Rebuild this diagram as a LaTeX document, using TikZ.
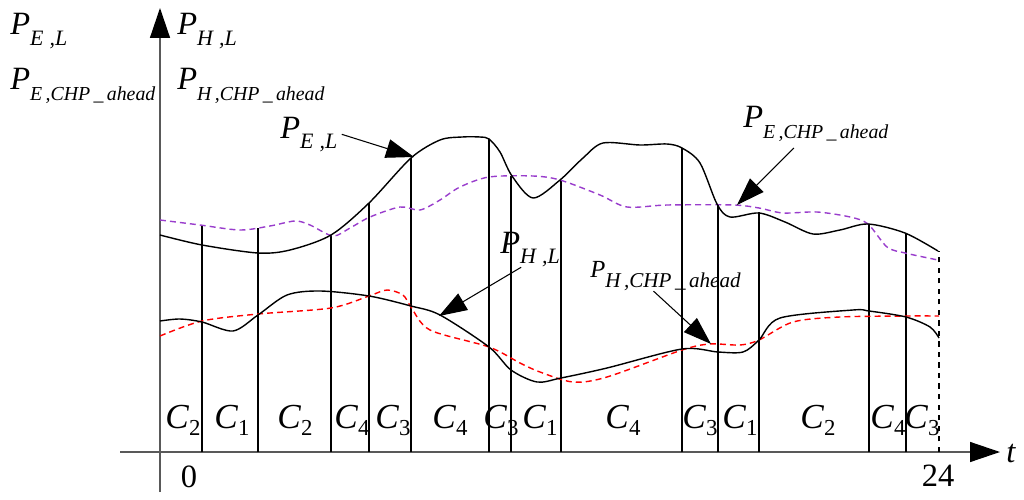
\documentclass[tikz,border=0pt]{standalone}
\usepackage{fontspec}
\setmainfont{Liberation Serif}
\usetikzlibrary{arrows.meta}
\definecolor{chpviolet}{RGB}{153,61,204}
\newcommand\pvar[2][12.5]{\textit{P}\raisebox{-6pt}{\fontsize{#1}{14}\selectfont\textit{#2}}}
\newcommand\cvar[1]{\textit{C}\raisebox{-4pt}{\fontsize{13}{14}\selectfont #1}}

\begin{document}
\begin{tikzpicture}[x=0.02cm,y=-0.02cm,
  axis/.style={line width=0.8pt,black!65,-{Triangle[length=0.6cm,width=0.4cm,color=black]}},
  bound/.style={line width=0.6pt},
  pointer/.style={line width=0.6pt,-{Triangle[length=0.56cm,width=0.38cm]}},
  load/.style={line width=0.8pt},
  plan/.style={line width=0.8pt,dash pattern=on 3.4pt off 2.3pt},
  lbl/.style={inner sep=0pt,anchor=base west,font=\fontsize{18.5}{19}\selectfont},
  clbl/.style={inner sep=0pt,anchor=base,font=\fontsize{20}{21}\selectfont},
  num/.style={inner sep=0pt,anchor=base,font=\fontsize{18.5}{19}\selectfont}]
\useasboundingbox (0,0) rectangle (1024,500);
% axes
\coordinate (yfoot) at (160,492);
\coordinate (ytop) at (160,8);
\coordinate (xfoot) at (120,452);
\coordinate (xtip) at (1000,452);
\draw[axis] (yfoot) -- (ytop);
\draw[axis] (xfoot) -- (xtip);
\node[num] (zero) at (189,487) {0};
\node[num] (end) at (938,486) {24};
\node[num,anchor=base west] (tlbl) at (1006,462) {\textit{t}};
% axis labels
\node[lbl] (yEL) at (10,35) {\pvar{E\;,L}};
\node[lbl] (yECHP) at (10,90) {\pvar[11.3]{E\,,CHP\,\_\,ahead}};
\node[lbl] (yHL) at (177,35) {\pvar{H\;,L}};
\node[lbl] (yHCHP) at (177,90) {\pvar[11.3]{H\,,CHP\,\_\,ahead}};
% period boundaries
\foreach \xb/\yt in {202/225,258/228,331/235,369/203,411/158,489/139,511/176,
  561/180,682/148,718/204,759/212,869/224,906/233}
  \draw[bound] (\xb,452) -- (\xb,\yt);
\draw[bound,dashed] (939,452) -- (939,251);
% curves
\draw[plan,chpviolet] plot[smooth] coordinates {(160,220) (200,225) (240,230)
  (270,226) (295,221) (310,225) (333,236) (350,228) (370,217) (400,207) (420,210)
  (440,200) (460,187) (489,177) (533,176) (560,180) (600,195) (627,207) (667,205)
  (733,205) (759,208) (783,213) (817,212) (850,217) (868,224) (887,247) (905,253)
  (938,260)};
\draw[load] plot[smooth] coordinates {(160,235) (202,245) (258,253) (290,250)
  (331,235) (369,203) (411,158) (440,140) (462,137) (480,137) (489,139) (500,152)
  (512,176) (533,198) (560,180) (583,158) (603,143) (640,145) (667,144) (682,148)
  (700,163) (717,204) (730,217) (759,213) (785,222) (813,234) (840,230) (868,224)
  (905,233) (938,251)};
\draw[plan,red] plot[smooth] coordinates {(160,336) (202,321) (258,314) (331,308)
  (369,296) (387,290) (403,295) (411,307) (430,330) (489,347) (520,363) (540,372)
  (573,382) (607,377) (682,350) (710,344) (740,345) (759,340) (793,322) (840,317)
  (906,316) (939,316)};
\draw[load] plot[smooth] coordinates {(160,321) (180,319) (202,322) (233,331)
  (258,315) (287,295) (320,291) (369,296) (411,306) (440,315) (489,347) (511,370)
  (537,382) (561,378) (607,368) (682,349) (718,352) (743,352) (759,340) (780,318)
  (853,310) (869,311) (906,317) (930,327) (939,338)};
% curve labels
\node[lbl] (lblEL) at (280,138) {\pvar{E\;,L}};
\node[lbl] (lblECHP) at (743,128) {\pvar[11.3]{E\,,CHP\,\_\,ahead}};
\node[lbl] (lblHL) at (500,253) {\pvar{H\;,L}};
\node[lbl,font=\fontsize{14}{15}\selectfont] (lblHCHP) at (590,277) {\pvar[12]{H\,,CHP\,\_\,ahead}};
\coordinate (onEL) at (414,157);
\coordinate (onECHP) at (737,205);
\coordinate (onHL) at (439,316);
\coordinate (onHCHP) at (711,344);
\draw[pointer] ([xshift=0.08cm]lblEL.east) -- (onEL);
\draw[pointer] ([xshift=-0.44cm,yshift=-0.12cm]lblECHP.south) -- (onECHP);
\draw[pointer] ([xshift=-0.18cm]lblHL.south) -- (onHL);
\draw[pointer] ([xshift=-0.24cm]lblHCHP.south) -- (onHCHP);
% operating modes
\foreach \xc/\m in {183/2,232/1,295/2,352/4,393/3,450/4,501/3,540/1,
  623/4,700/3,740/1,818/2,888/4,922/3}
  \node[clbl] (mode-\xc) at (\xc,428) {\cvar{\m}};
\end{tikzpicture}
\end{document}
